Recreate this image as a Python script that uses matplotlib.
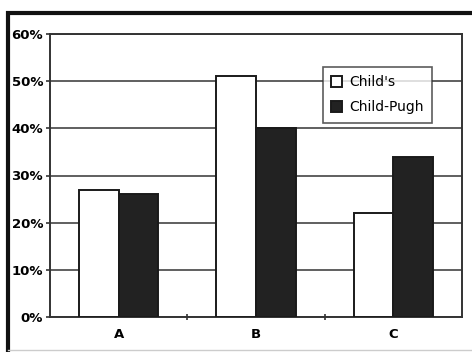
import numpy as np
import matplotlib.pyplot as plt
from matplotlib.patches import Rectangle
from matplotlib.lines import Line2D

categories = ['A', 'B', 'C']
childs = [27, 51, 22]
child_pugh = [26, 40, 34]
yticks = [0, 10, 20, 30, 40, 50, 60]
ytick_labels = ['0%', '10%', '20%', '30%', '40%', '50%', '60%']

plt.rcParams['font.family'] = ['Liberation Sans Narrow', 'DejaVu Sans']

fig = plt.figure(figsize=(4.72, 3.52), dpi=100)
ax = fig.add_axes([50/472, 1-317/352, 412/472, 283/352])

x = np.arange(len(categories))
w = 0.29
ax.bar(x - w/2, childs, w, color='white', edgecolor='#1a1a1a', linewidth=1.4,
       label="Child's", zorder=3)
ax.bar(x + w/2, child_pugh, w, color='#222222', edgecolor='#1a1a1a', linewidth=1.4,
       label='Child-Pugh', zorder=3)

ax.set_xlim(-0.5, 2.5)
ax.set_ylim(0, 60)
ax.set_yticks(yticks)
ax.set_yticklabels(ytick_labels, fontsize=9.5, fontweight='bold')
ax.set_xticks(x)
ax.set_xticklabels(categories, fontsize=9.5, fontweight='bold')
ax.set_xticks([0.5, 1.5], minor=True)
ax.tick_params(axis='x', which='major', length=0, pad=8)
ax.tick_params(axis='x', which='minor', length=4, width=1.2, direction='inout', color='#333333')
ax.tick_params(axis='y', length=3, width=1.2, direction='out', color='#333333', pad=2)
ax.yaxis.grid(True, color='#444444', linewidth=1.2, zorder=0)
ax.set_axisbelow(True)
for s in ax.spines.values():
    s.set_color('#333333')
    s.set_linewidth(1.4)

leg = ax.legend(loc='upper left', bbox_to_anchor=(273/412, 1-(67-34)/283),
                prop={'size': 10}, frameon=True, fancybox=False, edgecolor='#333333',
                handlelength=0.8, handleheight=0.9, handletextpad=0.5,
                labelspacing=0.8, borderpad=0.6, borderaxespad=0)
leg.get_frame().set_linewidth(1.2)

# outer frame
fig.patches.append(Rectangle((8/472, -0.2), 1.2, 1.2 - 13/352, transform=fig.transFigure,
                             fill=False, edgecolor='#111111', linewidth=3))
fig.lines.append(Line2D([8/472, 1], [1-350/352, 1-350/352], transform=fig.transFigure,
                        color='#cccccc', linewidth=1))

fig.savefig('out.png', dpi=100)
